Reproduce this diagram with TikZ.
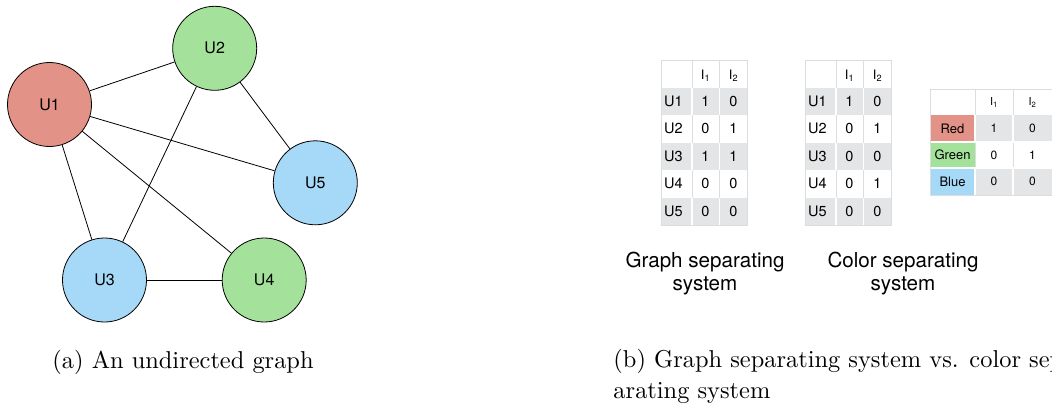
\documentclass[tikz,border=0pt]{standalone}
\usepackage{fontspec}
\newfontfamily\hv{TeX Gyre Heros}
\definecolor{cred}{RGB}{227,146,135}
\definecolor{cgreen}{RGB}{164,226,155}
\definecolor{cblue}{RGB}{166,216,247}
\definecolor{tgray}{RGB}{228,229,231}
\definecolor{gridc}{RGB}{220,221,223}
\tikzset{
  vertex/.style={circle, draw=black, line width=0.8pt, minimum size=84pt, inner sep=0pt, font=\hv\fontsize{16}{18}\selectfont},
  edgeline/.style={line width=0.8pt},
  tcell/.style={inner sep=0pt, anchor=base, font=\hv\fontsize{14.5}{16}\selectfont},
  tlab/.style={tcell, anchor=base west},
  thead/.style={inner sep=0pt, anchor=base, font=\hv\fontsize{13}{15}\selectfont},
  clab/.style={inner sep=0pt, anchor=base, font=\hv\fontsize{13}{15}\selectfont},
  chead/.style={inner sep=0pt, anchor=base, font=\hv\fontsize{11}{14}\selectfont},
  scell/.style={inner sep=0pt, anchor=base, font=\hv\fontsize{12}{14}\selectfont},
  sep/.style={gridc, line width=0.9pt},
  wsep/.style={white, line width=1.2pt},
  capsans/.style={align=center, anchor=base, inner sep=0pt, font=\hv\fontsize{20.6}{23}\selectfont},
  capserif/.style={align=left, anchor=base west, inner sep=0pt, font=\fontsize{10}{12.3}\selectfont, scale=2.44}
}
\begin{document}
\begin{tikzpicture}[x=1pt,y=-1pt]
\useasboundingbox (0,0) rectangle (1052,404);
% ---------- graph ----------
\node[vertex, fill=cred]   (u1) at (49.5,104.5) {U1};
\node[vertex, fill=cgreen] (u2) at (214.7,48.3) {U2};
\node[vertex, fill=cblue]  (u5) at (315.3,182.8) {U5};
\node[vertex, fill=cblue]  (u3) at (104.5,280) {U3};
\node[vertex, fill=cgreen] (u4) at (264.2,280) {U4};
\draw[edgeline] (u1) -- (u2);
\draw[edgeline] (u1) -- (u5);
\draw[edgeline] (u1) -- (u3);
\draw[edgeline] (u1) -- (u4);
\draw[edgeline] (u2) -- (u3);
\draw[edgeline] (u2) -- (u5);
\draw[edgeline] (u3) -- (u4);
% ---------- tables 1 and 2 ----------
\foreach \ox/\tn/\data in {0/A/{U1/1/0,U2/0/1,U3/1/1,U4/0/0,U5/0/0},
                           144/B/{U1/1/0,U2/0/1,U3/0/0,U4/0/1,U5/0/0}} {
  \begin{scope}[xshift=\ox pt]
    \fill[white] (661,60) rectangle (747,225);
    \foreach \r in {1,3,5}
      \fill[tgray] (661,{60+27.5*\r}) rectangle (747,{60+27.5*(\r+1)});
    \foreach \x in {692,719.5} {
      \draw[sep] (\x,60) -- (\x,225);
      \foreach \r in {1,3,5}
        \draw[wsep] (\x,{60+27.5*\r}) -- (\x,{60+27.5*(\r+1)});
    }
    \draw[sep] (661,60) rectangle (747,225);
    \node[thead] (\tn h1) at (705.5,79) {I\textsubscript{1}};
    \node[thead] (\tn h2) at (733.5,79) {I\textsubscript{2}};
    \foreach \lab/\a/\b [count=\r] in \data {
      \node[tlab] (\tn l\r) at (664,{60+27.5*(\r+0.5)+5.2}) {\lab};
      \node[tcell] (\tn a\r) at (705.5,{60+27.5*(\r+0.5)+5.2}) {\a};
      \node[tcell] (\tn b\r) at (733.5,{60+27.5*(\r+0.5)+5.2}) {\b};
    }
  \end{scope}
}
% ---------- table 3 ----------
\fill[white] (930,89) rectangle (1052,195);
\fill[tgray] (975,115) rectangle (1052,142);
\fill[tgray] (975,168) rectangle (1052,195);
\fill[cred]   (930,115) rectangle (975,142);
\fill[cgreen] (930,142) rectangle (975,168);
\fill[cblue]  (930,168) rectangle (975,195);
\foreach \x in {975,1013} {
  \draw[sep] (\x,89) -- (\x,115);
  \draw[sep] (\x,142) -- (\x,168);
  \draw[wsep] (\x,115) -- (\x,142);
  \draw[wsep] (\x,168) -- (\x,195);
}
\foreach \y in {142,168} \draw[wsep] (930,\y) -- (1052,\y);
\draw[sep] (930,195) -- (930,89) -- (1052,89);
\draw[sep] (930,195) -- (1052,195);
\node[chead] (Ch1) at (994,106) {I\textsubscript{1}};
\node[chead] (Ch2) at (1032.5,106) {I\textsubscript{2}};
\foreach \lab/\a/\b/\yc [count=\r] in {Red/1/0/128.5,Green/0/1/155,Blue/0/0/181.5} {
  \node[clab] (Cl\r) at (952.5,\yc+4.6) {\lab};
  \node[scell] (Ca\r) at (994,\yc+4.3) {\a};
  \node[scell] (Cb\r) at (1032.5,\yc+4.3) {\b};
}
% ---------- captions ----------
\node[capsans] (capg) at (705,290) {Graph separating\\system};
\node[capsans] (capc) at (903,290) {Color separating\\system};
\node[capserif] (capa) at (52,368) {(a) An undirected graph};
\node[capserif] (capb) at (613,398) {(b) Graph separating system vs. color sep-\\arating system};
\end{tikzpicture}
\end{document}
